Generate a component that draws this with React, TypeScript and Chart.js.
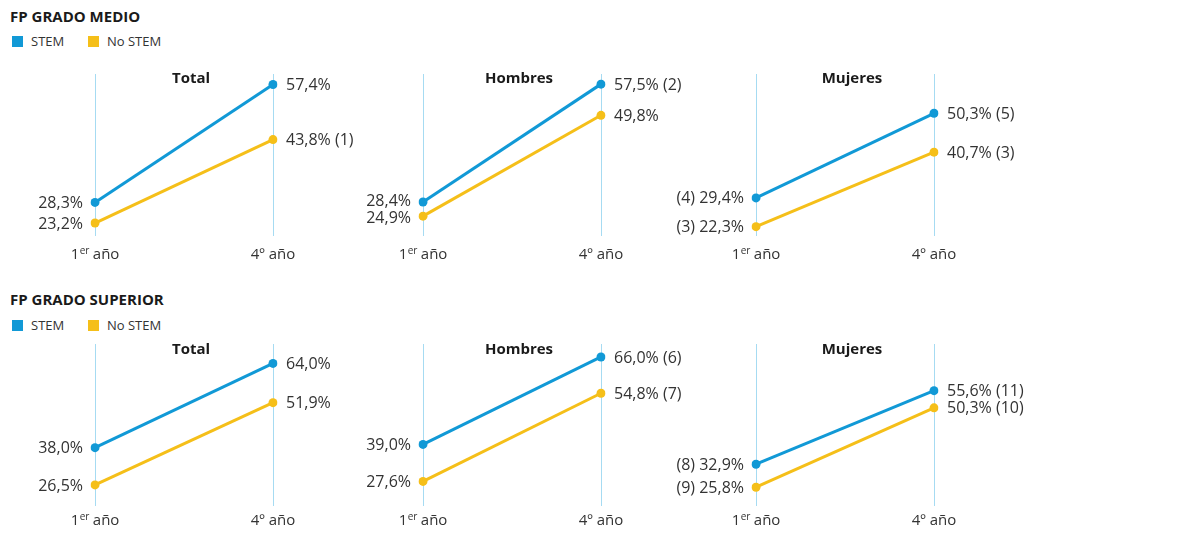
import React, { useEffect, useRef } from 'react';
import { Chart, registerables } from 'chart.js';
Chart.register(...registerables);

// ---------- data ----------
const categories = ['1er año', '4º año'];
const panelTitles = ['Total', 'Hombres', 'Mujeres'];
const seriesNames = ['STEM', 'No STEM'];
const sectionTitles = ['FP GRADO MEDIO', 'FP GRADO SUPERIOR'];

const medioStem = [[28.3, 57.4], [28.4, 57.5], [29.4, 50.3]];
const medioNoStem = [[23.2, 43.8], [24.9, 49.8], [22.3, 40.7]];
const medioStemNotes = [['', ''], ['', '(2)'], ['(4)', '(5)']];
const medioNoStemNotes = [['', '(1)'], ['', ''], ['(3)', '(3)']];

const superiorStem = [[38.0, 64.0], [39.0, 66.0], [32.9, 55.6]];
const superiorNoStem = [[26.5, 51.9], [27.6, 54.8], [25.8, 50.3]];
const superiorStemNotes = [['', ''], ['', '(6)'], ['(8)', '(11)']];
const superiorNoStemNotes = [['', ''], ['', '(7)'], ['(9)', '(10)']];

const yRanges = [[20, 60], [20, 70]];

// ---------- style ----------
const BLUE = '#1199d6';
const YELLOW = '#f5bf19';
const GRID = '#a6dbf2';
const TEXT = '#333333';
const FONT = '"Open Sans", "Noto Sans", sans-serif';

const PAD_L = 100;
const PAD_R = 115;
const PAD_T = 16;
const PAD_B = 34;
const PLOT_W = 178;
const PLOT_H = 162;
const PANEL_X = [95, 423, 756];
const ROW_TOP = [74, 344];
const ROW_LABEL_GAP = [18.5, 14.5];
const ROW_TITLE_GAP = [5, 6];

const fmt = (v: number) => v.toFixed(1).replace('.', ',') + '%';

function drawCategory(ctx: CanvasRenderingContext2D, label: string, cx: number, cy: number) {
  const m = label.match(/^(\d+)([a-z]+)(\s.*)$/);
  ctx.textBaseline = 'middle';
  if (!m) {
    ctx.font = `15px ${FONT}`;
    ctx.textAlign = 'center';
    ctx.fillText(label, cx, cy);
    return;
  }
  ctx.font = `15px ${FONT}`;
  const w1 = ctx.measureText(m[1]).width;
  const w3 = ctx.measureText(m[3]).width;
  ctx.font = `10px ${FONT}`;
  const w2 = ctx.measureText(m[2]).width;
  let x = cx - (w1 + w2 + w3) / 2;
  ctx.textAlign = 'left';
  ctx.font = `15px ${FONT}`;
  ctx.fillText(m[1], x, cy);
  x += w1;
  ctx.font = `10px ${FONT}`;
  ctx.fillText(m[2], x + 0.5, cy - 3);
  x += w2;
  ctx.font = `15px ${FONT}`;
  ctx.fillText(m[3], x, cy);
}

type PanelProps = {
  stem: number[];
  noStem: number[];
  stemNotes: string[];
  noStemNotes: string[];
  yMin: number;
  yMax: number;
  title: string;
  labelGap: number;
  titleGap: number;
  left: number;
  top: number;
};

function Panel(p: PanelProps) {
  const ref = useRef<HTMLCanvasElement>(null);
  useEffect(() => {
    if (!ref.current) return;
    const notes = [p.stemNotes, p.noStemNotes];
    const overlay = {
      id: 'overlay',
      afterDraw(chart: any) {
        const ctx: CanvasRenderingContext2D = chart.ctx;
        const area = chart.chartArea;
        const xs = chart.scales.x;
        ctx.save();
        ctx.fillStyle = '#1a1a1a';
        ctx.font = `bold 15px ${FONT}`;
        ctx.textAlign = 'center';
        ctx.textBaseline = 'middle';
        ctx.fillText(p.title, (area.left + area.right) / 2 + 7, area.top + p.titleGap);

        ctx.fillStyle = TEXT;
        categories.forEach((c, i) => {
          drawCategory(ctx, c, xs.getPixelForTick(i), area.bottom + p.labelGap);
        });

        ctx.font = `16px ${FONT}`;
        ctx.textBaseline = 'middle';
        for (let i = 0; i < categories.length; i++) {
          const items = chart.data.datasets.map((ds: any, d: number) => {
            const pt = chart.getDatasetMeta(d).data[i];
            const v = ds.data[i] as number;
            const note = notes[d][i];
            const text = i === 0 ? (note ? note + ' ' : '') + fmt(v) : fmt(v) + (note ? ' ' + note : '');
            return { x: pt.x, y: pt.y, text };
          });
          items.sort((a: any, b: any) => a.y - b.y);
          const MIN = 17;
          for (let k = 1; k < items.length; k++) {
            if (items[k].y - items[k - 1].y < MIN) {
              const mid = (items[k].y + items[k - 1].y) / 2;
              items[k - 1].y = mid - MIN / 2;
              items[k].y = mid + MIN / 2;
            }
          }
          items.forEach((it: any) => {
            if (i === 0) {
              ctx.textAlign = 'right';
              ctx.fillText(it.text, it.x - 12, it.y + 1);
            } else {
              ctx.textAlign = 'left';
              ctx.fillText(it.text, it.x + 13, it.y + 1);
            }
          });
        }
        ctx.restore();
      },
    };
    const chart = new Chart(ref.current, {
      type: 'line',
      data: {
        labels: categories,
        datasets: [
          {
            label: seriesNames[0],
            data: p.stem,
            borderColor: BLUE,
            backgroundColor: BLUE,
            pointBackgroundColor: BLUE,
            borderWidth: 3,
            pointRadius: 4.5,
            pointBorderWidth: 0,
          },
          {
            label: seriesNames[1],
            data: p.noStem,
            borderColor: YELLOW,
            backgroundColor: YELLOW,
            pointBackgroundColor: YELLOW,
            borderWidth: 3,
            pointRadius: 4.5,
            pointBorderWidth: 0,
          },
        ],
      },
      options: {
        animation: false,
        responsive: false,
        maintainAspectRatio: false,
        events: [],
        layout: { padding: { left: PAD_L, right: PAD_R, top: PAD_T, bottom: PAD_B } },
        plugins: { legend: { display: false }, tooltip: { enabled: false }, title: { display: false } },
        scales: {
          x: {
            type: 'category',
            offset: false,
            ticks: { display: false },
            grid: { color: GRID, lineWidth: 1, drawTicks: false },
            border: { display: false },
          },
          y: { display: false, min: p.yMin, max: p.yMax },
        },
      },
      plugins: [overlay],
    });
    return () => chart.destroy();
  }, []);
  const w = PAD_L + PLOT_W + PAD_R;
  const h = PAD_T + PLOT_H + PAD_B;
  return (
    <canvas
      ref={ref}
      width={w}
      height={h}
      style={{ position: 'absolute', left: p.left - PAD_L, top: p.top - PAD_T, width: w, height: h }}
    />
  );
}

function Legend({ top }: { top: number }) {
  const sq = (left: number, color: string) => (
    <div style={{ position: 'absolute', left, top, width: 11, height: 11, background: color }} />
  );
  const txt = (left: number, s: string) => (
    <div style={{ position: 'absolute', left, top: top - 4, fontSize: 13, lineHeight: '19px', color: TEXT, fontFamily: FONT }}>{s}</div>
  );
  return (
    <>
      {sq(12, BLUE)}
      {txt(31, seriesNames[0])}
      {sq(88, YELLOW)}
      {txt(107, seriesNames[1])}
    </>
  );
}

export default function App() {
  useEffect(() => {
    document.body.style.margin = '0';
  }, []);
  const rows = [
    { stem: medioStem, noStem: medioNoStem, sn: medioStemNotes, nn: medioNoStemNotes, titleTop: 5, legendTop: 36 },
    { stem: superiorStem, noStem: superiorNoStem, sn: superiorStemNotes, nn: superiorNoStemNotes, titleTop: 288, legendTop: 320 },
  ];
  return (
    <div style={{ position: 'fixed', left: 0, top: 0, width: 1180, height: 536, overflow: 'hidden', background: '#fff', fontFamily: FONT }}>
      {rows.map((r, ri) => (
        <React.Fragment key={ri}>
          <div style={{ position: 'absolute', left: 10, top: r.titleTop, fontSize: 15, fontWeight: 700, lineHeight: '22px', color: '#1a1a1a' }}>
            {sectionTitles[ri]}
          </div>
          <Legend top={r.legendTop} />
          {panelTitles.map((t, pi) => (
            <Panel
              key={pi}
              stem={r.stem[pi]}
              noStem={r.noStem[pi]}
              stemNotes={r.sn[pi]}
              noStemNotes={r.nn[pi]}
              yMin={yRanges[ri][0]}
              yMax={yRanges[ri][1]}
              title={t}
              labelGap={ROW_LABEL_GAP[ri]}
              titleGap={ROW_TITLE_GAP[ri]}
              left={PANEL_X[pi]}
              top={ROW_TOP[ri]}
            />
          ))}
        </React.Fragment>
      ))}
    </div>
  );
}
